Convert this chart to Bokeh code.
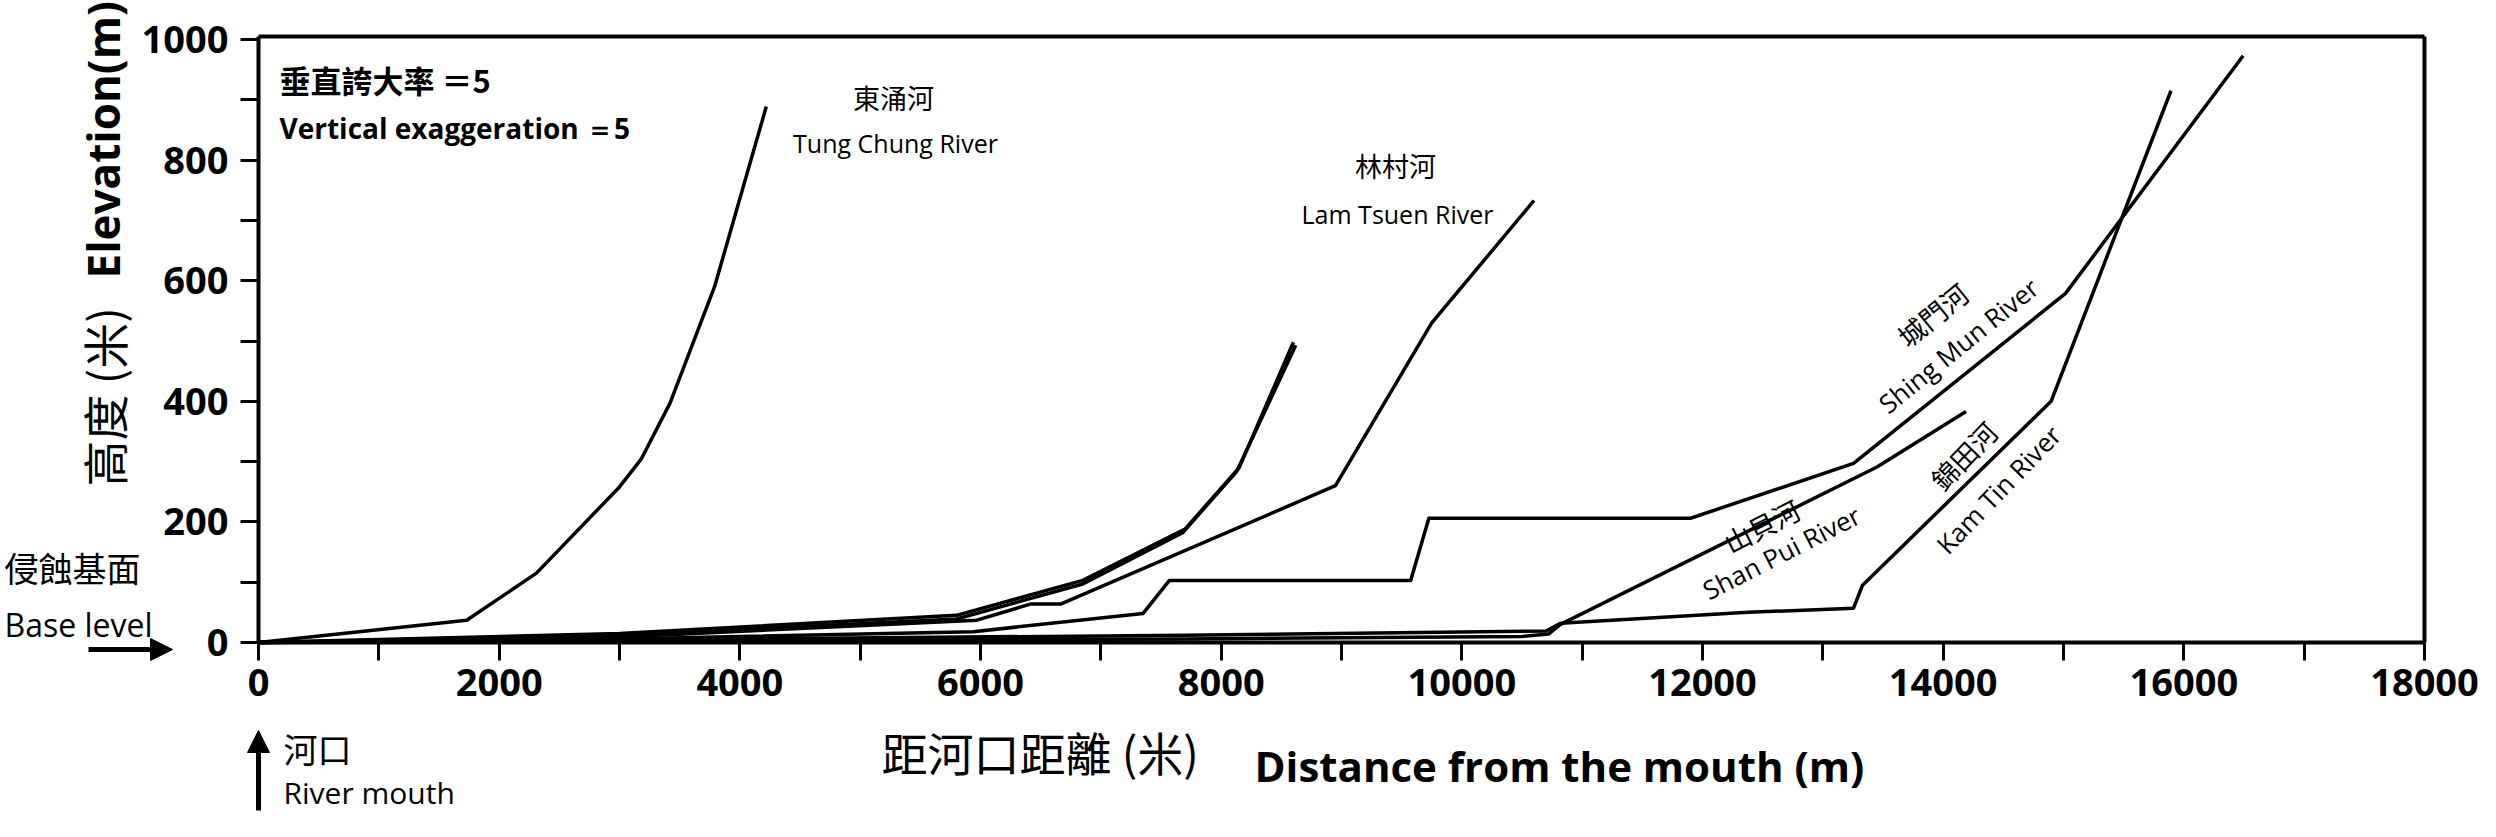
import math
from bokeh.plotting import figure
from bokeh.models import Label, Arrow, NormalHead, FixedTicker, LinearAxis
from bokeh.embed import file_html
from bokeh.resources import INLINE

# ---------------- data (distance from mouth in m, elevation in m) ----------------
TUNG_CHUNG_X = [0, 1730, 2310, 3000, 3180, 3420, 3790, 4220]
TUNG_CHUNG_Y = [0, 37, 115, 258, 304, 397, 590, 889]

UNLABELLED_A_X = [0, 3000, 5800, 6850, 7700, 8150, 8600]
UNLABELLED_A_Y = [0, 15, 45, 103, 188, 290, 498]
UNLABELLED_B_X = [0, 3000, 5800, 6850, 7680, 8130, 8620]
UNLABELLED_B_Y = [0, 12, 39, 97, 182, 284, 493]

LAM_TSUEN_X = [0, 3000, 5970, 6420, 6670, 8950, 9750, 10600]
LAM_TSUEN_Y = [0, 9, 37, 64, 64, 260, 530, 733]

SHING_MUN_X = [0, 3000, 5940, 7350, 7570, 9575, 9726, 11900, 13255, 15017, 16493]
SHING_MUN_Y = [0, 6, 18, 48, 103, 103, 206, 206, 297, 579, 973]

KAM_TIN_X = [0, 4000, 7700, 10700, 10820, 12380, 13255, 13330, 14897, 15893]
KAM_TIN_Y = [0, 6, 12, 19, 32, 50, 57, 95, 400, 915]

SHAN_PUI_X = [0, 4000, 7700, 10500, 10720, 10820, 13450, 14190]
SHAN_PUI_Y = [0, 3, 6, 10, 14, 30, 291, 383]

X_TICKS = [0, 1000, 2000, 3000, 4000, 5000, 6000, 7000, 8000, 9000,
           10000, 11000, 12000, 13000, 14000, 15000, 16000, 17000, 18000]
X_TICK_LABELS = ["0", "", "2000", "", "4000", "", "6000", "", "8000", "",
                 "10000", "", "12000", "", "14000", "", "16000", "", "18000"]
Y_TICKS = [0, 100, 200, 300, 400, 500, 600, 700, 800, 900, 1000]
Y_TICK_LABELS = ["0", "", "200", "", "400", "", "600", "", "800", "", "1000"]

X_MIN, X_MAX = 0, 18000
Y_MIN, Y_MAX = 0, 1005

# ---------------- layout (page pixels) ----------------
W, H = 2480, 821
PX0, PX1 = 266, 2432      # page x of distance 0 and 18000
PY0, PY1 = 650, 47        # page y of elevation 0 and 1000
SX = (PX1 - PX0) / 18000.0
SY = (PY0 - PY1) / 1000.0
XR = (X_MIN - (PX0 - 8) / SX, X_MAX + (8 + W - PX1) / SX)
YR = (Y_MIN - (8 + H - PY0) / SY, 1000 + (PY1 - 8) / SY)

def px_x(ox):
    return (ox - PX0) / SX

def px_y(oy):
    return (PY0 - oy) / SY

p = figure(width=W, height=H, x_range=XR, y_range=YR, title=None,
           output_backend="svg", toolbar_location=None,
           x_axis_location=None, y_axis_location=None, min_border=0)
p.grid.visible = False
p.background_fill_color = "white"
p.border_fill_color = "white"
p.outline_line_color = None

EN = "Open Sans"
CJK = "Noto Sans CJK TC"

def style_axis(ax, ticks, labels):
    ax.ticker = FixedTicker(ticks=ticks)
    ax.major_label_overrides = {t: l for t, l in zip(ticks, labels)}
    ax.minor_tick_line_color = None
    ax.axis_line_width = 4
    ax.axis_line_color = "black"
    ax.major_tick_line_width = 3
    ax.major_tick_in = 0
    ax.major_tick_out = 18
    ax.major_label_text_font = EN
    ax.major_label_text_font_style = "bold"
    ax.major_label_text_font_size = "38px"
    ax.major_label_text_color = "black"

xaxis = LinearAxis(fixed_location=Y_MIN, bounds=(X_MIN, X_MAX))
style_axis(xaxis, X_TICKS, X_TICK_LABELS)
xaxis.major_label_standoff = 8
p.add_layout(xaxis, "below")

yaxis = LinearAxis(fixed_location=X_MIN, bounds=(Y_MIN, Y_MAX))
style_axis(yaxis, Y_TICKS, Y_TICK_LABELS)
yaxis.major_label_standoff = 12
p.add_layout(yaxis, "left")

# frame top and right edges
for side, loc, bnds in (("above", Y_MAX, (X_MIN, X_MAX)), ("right", X_MAX, (Y_MIN, Y_MAX))):
    ax = LinearAxis(fixed_location=loc, bounds=bnds, ticker=FixedTicker(ticks=[]))
    ax.axis_line_width = 4
    ax.axis_line_color = "black"
    ax.major_tick_line_color = None
    ax.minor_tick_line_color = None
    ax.major_label_text_color = None
    p.add_layout(ax, side)

rivers = [
    (TUNG_CHUNG_X, TUNG_CHUNG_Y),
    (UNLABELLED_A_X, UNLABELLED_A_Y),
    (UNLABELLED_B_X, UNLABELLED_B_Y),
    (LAM_TSUEN_X, LAM_TSUEN_Y),
    (SHING_MUN_X, SHING_MUN_Y),
    (KAM_TIN_X, KAM_TIN_Y),
    (SHAN_PUI_X, SHAN_PUI_Y),
]
for xs, ys in rivers:
    p.line(xs, ys, line_color="black", line_width=3.5, line_join="round")

def label(ox, oy, text, font, size, style="normal", align="left", baseline="middle", angle=0.0):
    p.add_layout(Label(x=px_x(ox), y=px_y(oy), text=text, text_font=font,
                       text_font_size=f"{size}px", text_font_style=style,
                       text_align=align, text_baseline=baseline, text_color="black",
                       angle=math.radians(angle)))

# exaggeration note
label(287, 87, "垂直誇大率 ＝5", CJK, 31, "bold")
label(287, 135, "Vertical exaggeration ＝5", EN, 28, "bold", baseline="alphabetic")

# river names
label(901, 105, "東涌河", CJK, 27, align="center")
label(903, 150, "Tung Chung River", EN, 25, align="center", baseline="alphabetic")
label(1403, 173, "林村河", CJK, 27, align="center")
label(1405, 221, "Lam Tsuen River", EN, 25, align="center", baseline="alphabetic")
label(1940, 322, "城門河", CJK, 27, align="center", angle=39)
label(1966, 353, "Shing Mun River", EN, 26, align="center", angle=39)
label(1971, 463, "錦田河", CJK, 27, align="center", angle=46)
label(2006, 497, "Kam Tin River", EN, 26, align="center", angle=46)
label(1769, 533, "山貝河", CJK, 27, align="center", angle=27)
label(1789, 560, "Shan Pui River", EN, 26, align="center", angle=27)

# axis titles
label(110, 286, "Elevation(m)", EN, 44, "bold", angle=90)
label(110, 494, "高度 (米)", CJK, 46, angle=90)
label(889, 758, "距河口距離 (米)", CJK, 46)
label(1262, 773, "Distance from the mouth (m)", EN, 42, "bold", baseline="alphabetic")

# base level & river mouth
label(12, 575, "侵蝕基面", CJK, 34)
label(12, 632, "Base level", EN, 32, baseline="alphabetic")
label(291, 756, "河口", CJK, 34)
label(291, 800, "River mouth", EN, 30, baseline="alphabetic")

p.add_layout(Arrow(end=NormalHead(size=22, fill_color="black", line_color="black", line_width=1),
                   x_start=px_x(96), y_start=px_y(657), x_end=px_x(180), y_end=px_y(657),
                   line_color="black", line_width=5))
p.add_layout(Arrow(end=NormalHead(size=22, fill_color="black", line_color="black", line_width=1),
                   x_start=px_x(266), y_start=px_y(818), x_end=px_x(266), y_end=px_y(738),
                   line_color="black", line_width=5))

open("out.html", "w").write(file_html(p, INLINE))
